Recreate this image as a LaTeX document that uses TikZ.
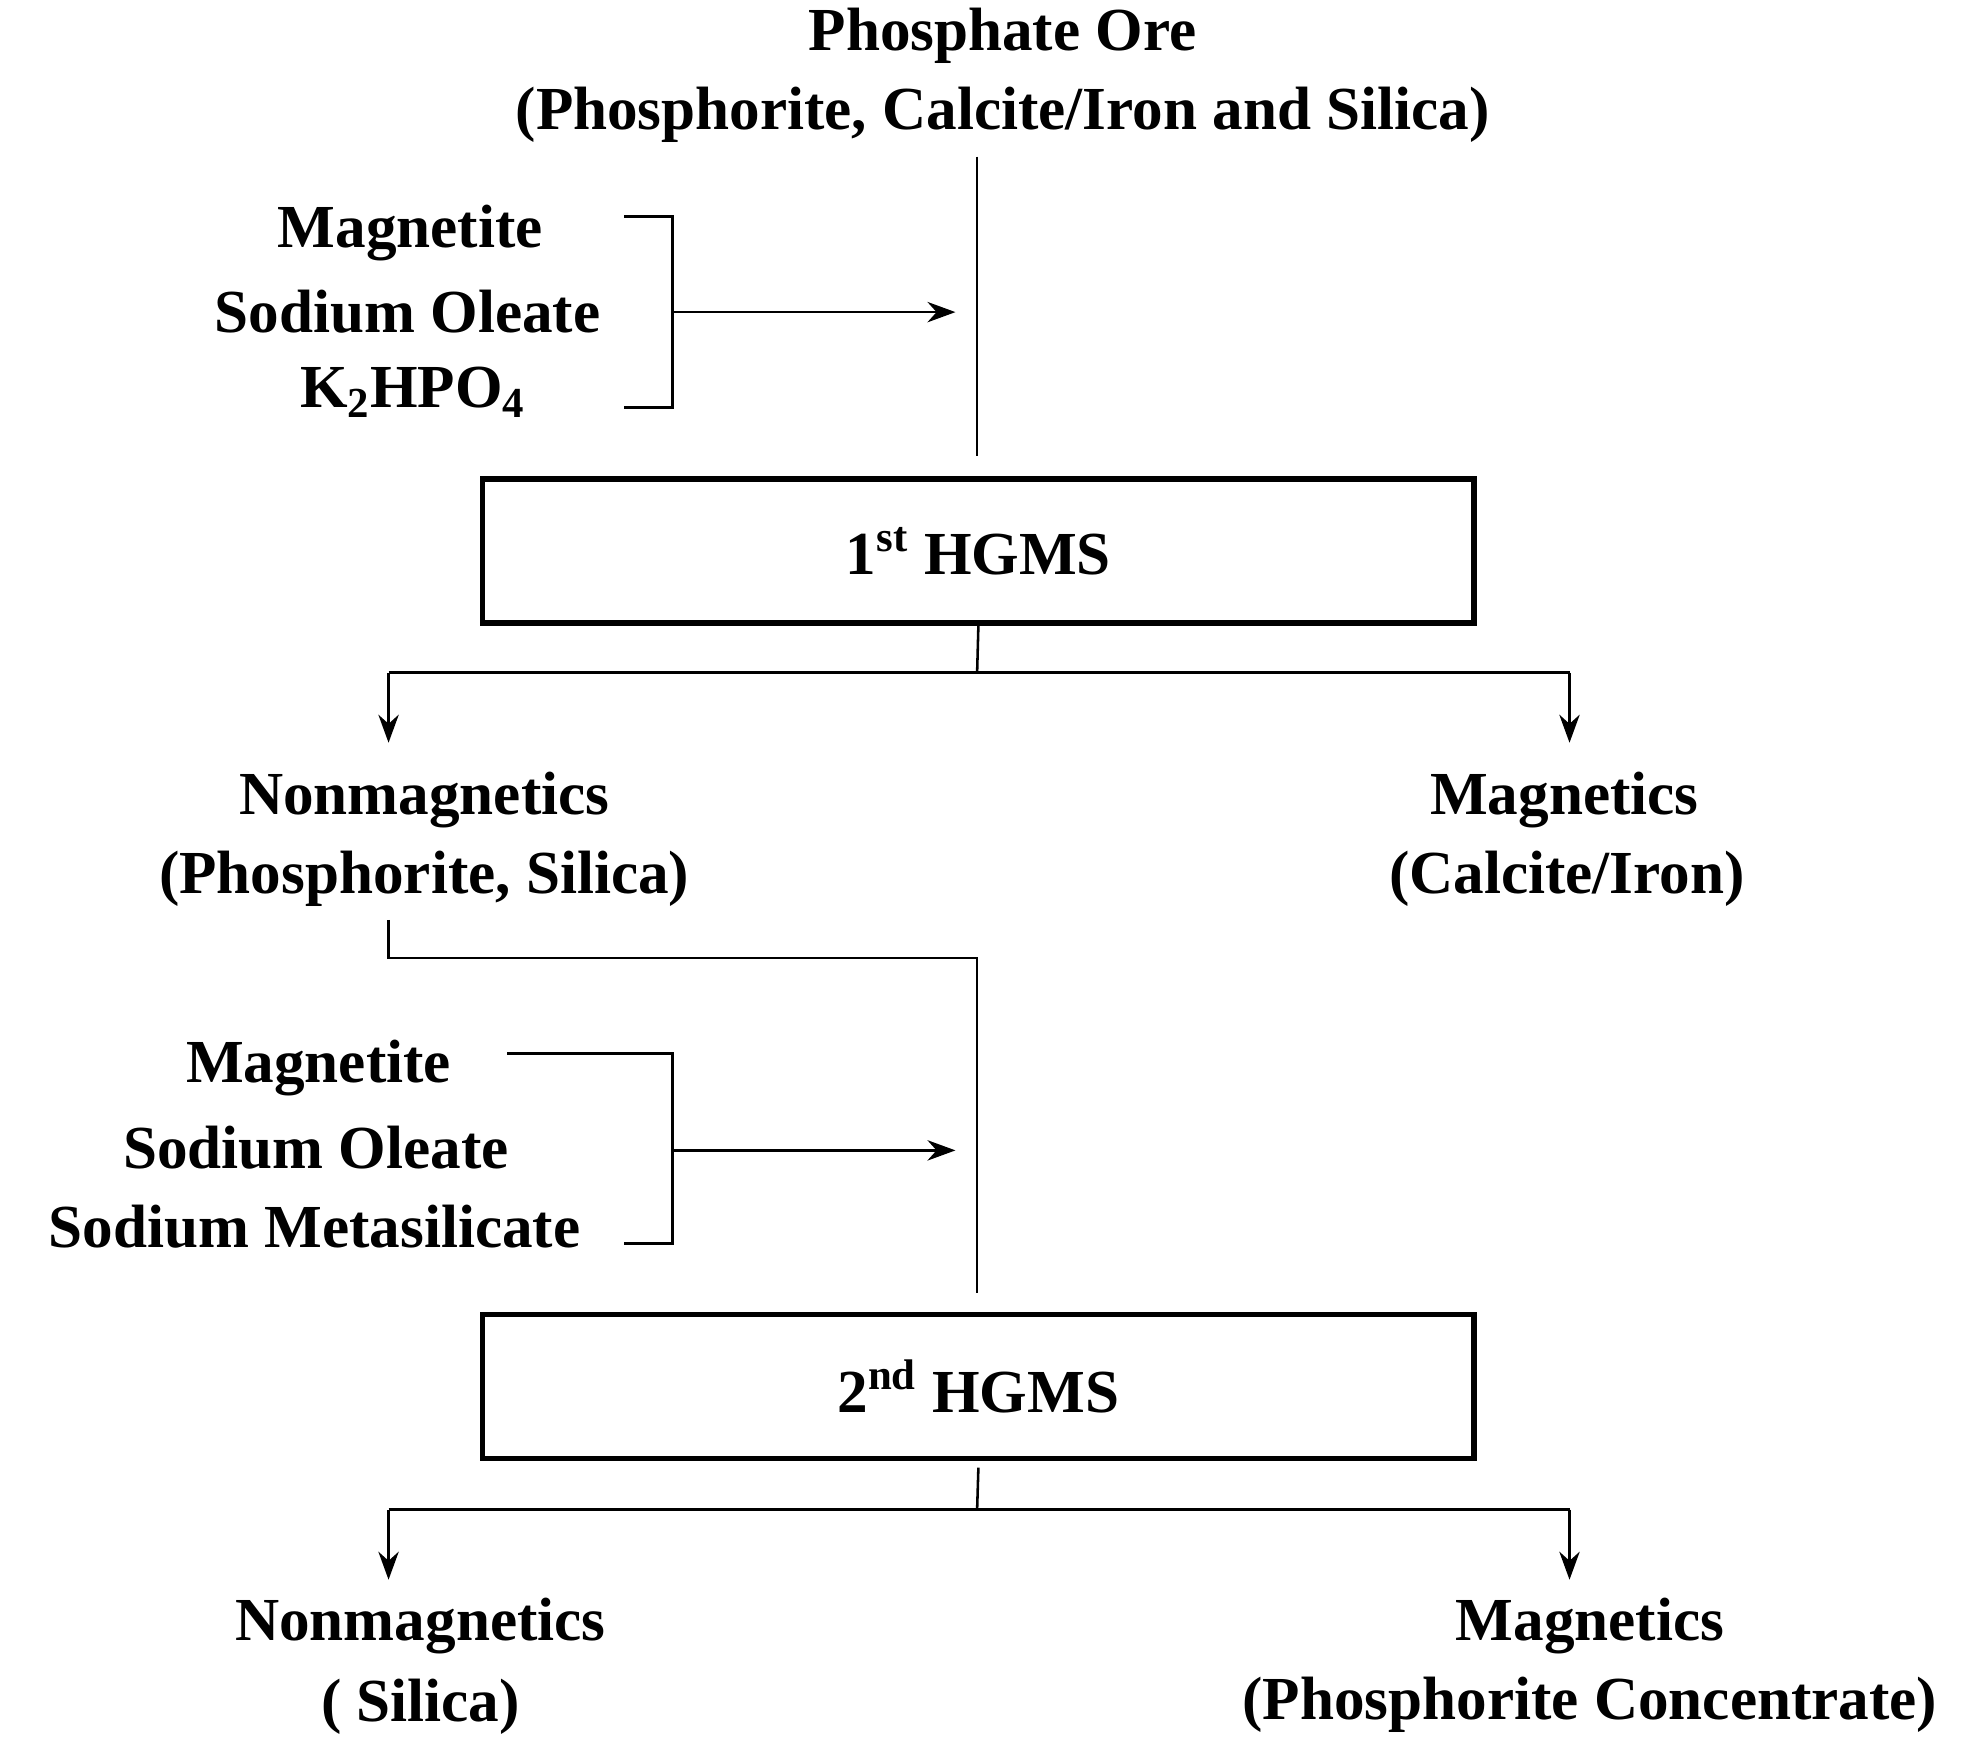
\documentclass[tikz,border=0pt]{standalone}
\usepackage{fontspec}
\setmainfont{Liberation Serif}
\usetikzlibrary{arrows.meta}
\begin{document}
\begin{tikzpicture}[x=0.5pt,y=-0.5pt,line width=1pt,
  t/.style={font=\fontsize{24}{30}\selectfont\bfseries,inner sep=0pt,anchor=center},
  box/.style={draw,line width=2pt,minimum width=389pt,minimum height=56.5pt,font=\fontsize{24}{30}\selectfont\bfseries},
  arr/.style={-{Stealth[length=11pt,width=8pt]}}]
\useasboundingbox (0,0) rectangle (1555,1382);
\node[t] (t1) at (787,28) {Phosphate Ore};
\node[t] (t2) at (787,90) {(Phosphorite, Calcite/Iron and Silica)};
\node[t] (a1) at (322,183) {Magnetite};
\node[t] (a2) at (320,245) {Sodium Oleate};
\node[t] (a3) at (324,308) {K\textsubscript{2}HPO\textsubscript{4}};
\coordinate (v1) at (767,123); \coordinate (v2) at (767,358);
\draw (v1) -- (v2);
\coordinate (b1) at (490,170); \coordinate (b2) at (490,320); \coordinate (bm) at (528,245); \coordinate (be) at (750,245);
\draw (b1) -| (bm) |- (b2);
\draw[arr] (bm) -- (be);
\node[box] (h1) at (768,432.5) {1\textsuperscript{st} HGMS};
\coordinate (s1) at (767,528); \coordinate (l1) at (305,528); \coordinate (r1) at (1232,528);
\coordinate (l1e) at (305,583); \coordinate (r1e) at (1232,583);
\draw (h1.south) -- (s1);
\draw (l1) -- (r1);
\draw[arr] (l1) -- (l1e);
\draw[arr] (r1) -- (r1e);
\node[t] (n1) at (333,628) {Nonmagnetics};
\node[t] (n2) at (333,690) {(Phosphorite, Silica)};
\node[t] (m1) at (1228,628) {Magnetics};
\node[t] (m2) at (1230,690) {(Calcite/Iron)};
\coordinate (c1) at (305,722); \coordinate (c2) at (767,752); \coordinate (c3) at (767,1015);
\draw (c1) |- (c2) -- (c3);
\node[t] (d1) at (250,838) {Magnetite};
\node[t] (d2) at (248,901) {Sodium Oleate};
\node[t] (d3) at (247,963) {Sodium Metasilicate};
\coordinate (e1) at (398,827); \coordinate (e2) at (490,976); \coordinate (em) at (528,903); \coordinate (ee) at (750,903);
\draw (e1) -| (em) |- (e2);
\draw[arr] (em) -- (ee);
\node[box] (h2) at (768,1088.5) {2\textsuperscript{nd} HGMS};
\coordinate (s2) at (767,1185); \coordinate (l2) at (305,1185); \coordinate (r2) at (1232,1185);
\coordinate (l2e) at (305,1240); \coordinate (r2e) at (1232,1240);
\draw ([yshift=-2.5pt]h2.south) -- (s2);
\draw (l2) -- (r2);
\draw[arr] (l2) -- (l2e);
\draw[arr] (r2) -- (r2e);
\node[t] (n3) at (330,1276) {Nonmagnetics};
\node[t] (n4) at (330,1340) {( Silica)};
\node[t] (m3) at (1248,1276) {Magnetics};
\node[t] (m4) at (1248,1338) {(Phosphorite Concentrate)};
\end{tikzpicture}
\end{document}
